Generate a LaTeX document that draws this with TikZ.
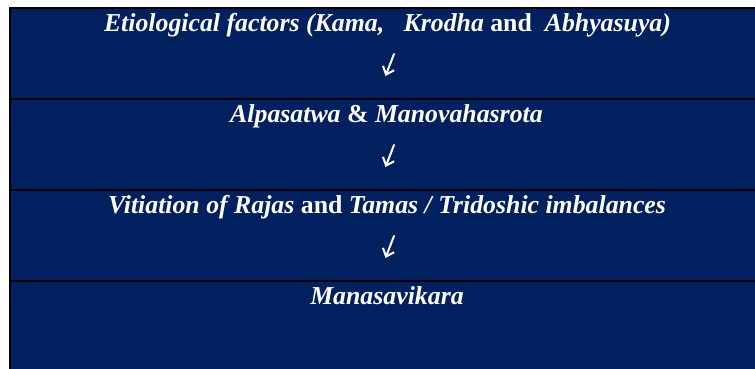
\documentclass[tikz,border=0pt]{standalone}
\usepackage{fontspec}
\setmainfont{Liberation Serif}
\usetikzlibrary{arrows.meta}
\definecolor{navy}{HTML}{002060}
\tikzset{
  rowtext/.style={anchor=base, text=white, inner sep=0pt, font=\fontsize{25.8}{28}\selectfont\bfseries\itshape},
  rule/.style={draw=black, line width=2.4pt},
  flowarrow/.style={draw=white, line width=2pt, line cap=round, -{Straight Barb[length=7pt,width=12pt,line width=2pt]}}
}
\begin{document}
\begin{tikzpicture}[x=1pt,y=-1pt]
\useasboundingbox (0,0) rectangle (755,369);
\fill[white] (0,0) rectangle (755,369);
\fill[navy] (10,8) rectangle (755,369);
% borders
\draw[rule] (8.8,8) -- (755,8);
\draw[rule] (10,6.8) -- (10,369);
\draw[rule] (10,99) -- (755,99);
\draw[rule] (10,190) -- (755,190);
\draw[rule] (10,281) -- (755,281);
% texts
\node[rowtext] (t1) at (387.5,31.5) {Etiological factors (Kama,\ \ \ Krodha \textup{and}\ \ Abhyasuya)};
\node[rowtext] (t2) at (386.5,122) {Alpasatwa \textup{\&} Manovahasrota};
\node[rowtext] (t3) at (387,213) {Vitiation of Rajas \textup{and} Tamas / Tridoshic imbalances};
\node[rowtext] (t4) at (387,304) {Manasavikara};
% arrows
\coordinate (a1s) at (394,54);  \coordinate (a1e) at (385.5,76);
\coordinate (a2s) at (394,145); \coordinate (a2e) at (385.5,167);
\coordinate (a3s) at (394,236); \coordinate (a3e) at (385.5,258);
\draw[flowarrow] (a1s) -- (a1e);
\draw[flowarrow] (a2s) -- (a2e);
\draw[flowarrow] (a3s) -- (a3e);
\end{tikzpicture}
\end{document}
